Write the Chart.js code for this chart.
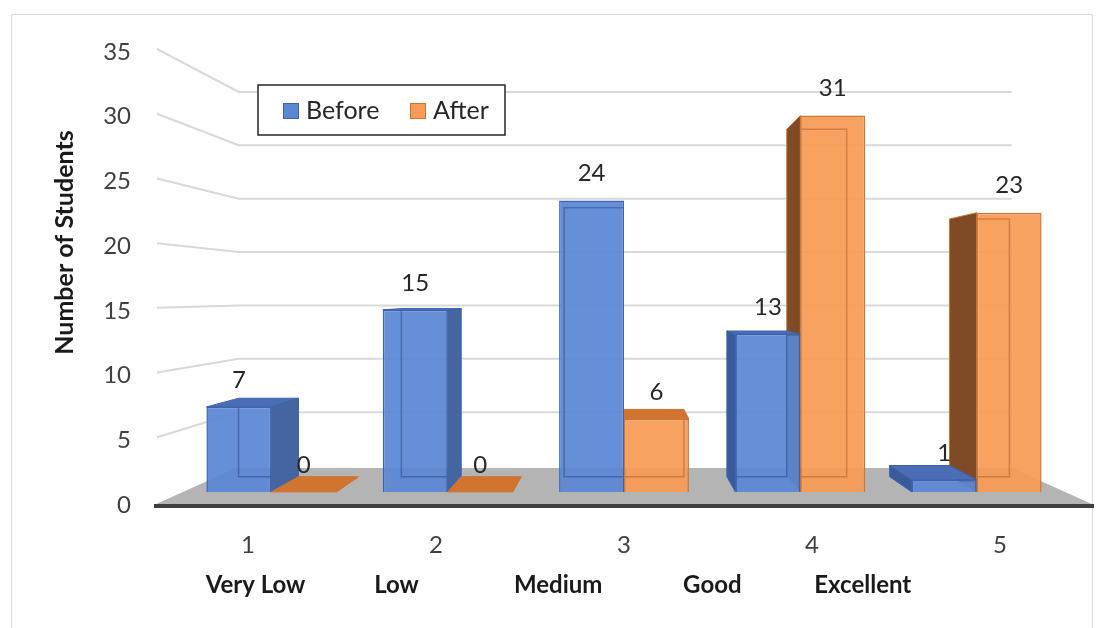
<!DOCTYPE html>
<html>
<head>
<meta charset="utf-8">
<script src="https://cdn.jsdelivr.net/npm/chart.js@4.4.1/dist/chart.umd.min.js"></script>
<style>
  html, body { margin: 0; padding: 0; background: #ffffff; }
  #wrap { width: 1101px; height: 628px; }
</style>
</head>
<body>
<div id="wrap"><canvas id="chart" width="1101" height="628"></canvas></div>
<script>
// ---- data ----
const categories = ['1', '2', '3', '4', '5'];
const ratingNames = ['Very Low', 'Low', 'Medium', 'Good', 'Excellent'];
const seriesNames = ['Before', 'After'];
const beforeCounts = [7, 15, 24, 13, 1];
const afterCounts = [0, 0, 6, 31, 23];
const yTitle = 'Number of Students';
const yMax = 35;
const yStep = 5;

// ---- 3-D view of the plot box (front-axis units / depth fractions) ----
const VIEW = {
  vpX: 2,          // vanishing point, category units
  vpY: 16.3,       // vanishing point, value units
  barPlane: 0.062, // depth of the bar fronts behind the front edge
  barDepth: 0.077, // bar depth, fraction towards the vanishing point
  wallDepth: 0.175 // depth of the back wall
};
const namePos = [0.04, 0.79, 1.65, 2.47, 3.27];

const PAL = [
  { front: 'rgba(91,135,213,0.93)', edge: '#3d63ae', sideR: '#44659f', sideL: '#3a5a9b',
    top: '#4a6db5', inner: 'rgba(36,60,118,0.45)', swatch: '#5b87d5' },
  { front: 'rgba(247,155,86,0.93)', edge: '#cc7636', sideR: '#e2843f', sideL: '#7e4b26',
    top: '#d0742f', inner: 'rgba(150,72,18,0.40)', swatch: '#f79b56' }
];

Chart.defaults.font.family = 'Lato, "Open Sans", sans-serif';
Chart.defaults.color = '#404040';

const shrink = 1 - VIEW.barPlane;
const ybMin = -VIEW.vpY * VIEW.barPlane / shrink;
const ybMax = ybMin + yMax / shrink;
const xbMin = VIEW.vpX + (-0.5 - VIEW.vpX) / shrink;
const xbMax = VIEW.vpX + (categories.length - 0.5 - VIEW.vpX) / shrink;

function toward(p, vp, t) {
  return { x: p.x + (vp.x - p.x) * t, y: p.y + (vp.y - p.y) * t };
}
function poly(ctx, pts, fill, stroke, lw) {
  ctx.beginPath();
  pts.forEach((p, i) => (i ? ctx.lineTo(p.x, p.y) : ctx.moveTo(p.x, p.y)));
  ctx.closePath();
  if (fill) { ctx.fillStyle = fill; ctx.fill(); }
  if (stroke) { ctx.strokeStyle = stroke; ctx.lineWidth = lw || 1; ctx.stroke(); }
}
function vanishing(chart) {
  return {
    x: chart.scales.x.getPixelForValue(VIEW.vpX),
    y: chart.scales.y.getPixelForValue(VIEW.vpY)
  };
}
function barBoxes(chart, vp) {
  const out = [];
  chart.data.datasets.forEach((ds, di) => {
    const meta = chart.getDatasetMeta(di);
    meta.data.forEach((el, i) => {
      const p = el.getProps(['x', 'y', 'base', 'width'], true);
      const x0 = p.x - p.width / 2, x1 = p.x + p.width / 2;
      const top = Math.min(p.y, p.base), bot = Math.max(p.y, p.base);
      const f = { tl: { x: x0, y: top }, tr: { x: x1, y: top }, bl: { x: x0, y: bot }, br: { x: x1, y: bot } };
      const b = {};
      for (const k in f) b[k] = toward(f[k], vp, VIEW.barDepth);
      out.push({ di, i, p, f, b, col: PAL[di], value: ds.data[i].y });
    });
  });
  return out;
}

const plotBox = {
  id: 'plotBox',
  beforeDraw(chart) {
    const ctx = chart.ctx;
    ctx.save();
    ctx.strokeStyle = '#d9d9d9';
    ctx.lineWidth = 1;
    ctx.strokeRect(11.5, 14.5, 1081, 700);
    ctx.restore();
  },
  beforeDatasetsDraw(chart) {
    const { ctx, chartArea: a, scales } = chart;
    const vp = vanishing(chart);
    ctx.save();
    // side-wall and back-wall gridlines
    ctx.strokeStyle = '#d9d9d9';
    ctx.lineWidth = 2;
    for (let v = yStep; v <= yMax; v += yStep) {
      const y = scales.y.getPixelForValue(v);
      const p = { x: a.left + 3, y: y - 3 };
      const q = toward(p, vp, VIEW.wallDepth);
      const r = toward({ x: a.right, y: y - 3 }, vp, VIEW.wallDepth);
      ctx.beginPath();
      ctx.moveTo(p.x, p.y); ctx.lineTo(q.x, q.y); ctx.lineTo(r.x, r.y);
      ctx.stroke();
    }
    // floor
    const y0 = scales.y.getPixelForValue(0);
    const fl = { x: a.left, y: y0 }, fr = { x: a.right, y: y0 };
    poly(ctx, [fl, fr, toward(fr, vp, VIEW.wallDepth), toward(fl, vp, VIEW.wallDepth)], '#b4b4b4');
    ctx.strokeStyle = '#3f3f3f';
    ctx.lineWidth = 4;
    ctx.beginPath();
    ctx.moveTo(a.left, y0 + 1); ctx.lineTo(a.right, y0 + 1);
    ctx.stroke();

    // bar sides and tops, far bars first
    const bars = barBoxes(chart, vp);
    bars.sort((m, n) => Math.abs(n.p.x - vp.x) - Math.abs(m.p.x - vp.x));
    bars.forEach(({ f, b, col }) => {
      if (f.tr.x < vp.x - 0.5) {
        poly(ctx, [f.tr, b.tr, b.br, f.br], col.sideR, col.edge, 1);
      } else if (f.tl.x > vp.x + 0.5) {
        poly(ctx, [f.tl, b.tl, b.bl, f.bl], col.sideL, col.edge, 1);
      }
      if (f.tl.y > vp.y) {
        poly(ctx, [f.tl, f.tr, b.tr, b.tl], col.top, col.edge, 1);
      }
    });
    ctx.restore();
  },
  afterDatasetsDraw(chart) {
    const { ctx, chartArea: a } = chart;
    const vp = vanishing(chart);
    const bars = barBoxes(chart, vp);
    ctx.save();
    // back edges seen through the fronts
    bars.forEach(({ f, b, col }) => {
      const h = f.bl.y - f.tl.y;
      if (h < 2) return;
      ctx.save();
      ctx.beginPath();
      ctx.rect(f.tl.x + 1, f.tl.y + 1, f.tr.x - f.tl.x - 2, h - 2);
      ctx.clip();
      poly(ctx, [b.tl, b.tr, b.br, b.bl], null, col.inner, 1.5);
      ctx.restore();
    });
    // value labels
    ctx.fillStyle = '#262626';
    ctx.font = '24px Lato, "Open Sans", sans-serif';
    ctx.textAlign = 'center';
    ctx.textBaseline = 'middle';
    bars.forEach(({ p, value }) => {
      ctx.fillText(String(value), p.x, Math.min(p.y, p.base) - 27);
    });

    // legend
    const items = Chart.defaults.plugins.legend.labels.generateLabels(chart);
    const bx = a.left + 104, by = a.top + 33, bw = 247, bh = 50;
    ctx.fillStyle = '#ffffff';
    ctx.fillRect(bx, by, bw, bh);
    ctx.strokeStyle = '#262626';
    ctx.lineWidth = 1.5;
    ctx.strokeRect(bx, by, bw, bh);
    ctx.font = '25px Lato, "Open Sans", sans-serif';
    ctx.textAlign = 'left';
    ctx.textBaseline = 'middle';
    let x = bx + 25;
    items.forEach((it, k) => {
      ctx.fillStyle = PAL[k].swatch;
      ctx.fillRect(x, by + 18, 16, 16);
      ctx.strokeStyle = PAL[k].edge;
      ctx.lineWidth = 1;
      ctx.strokeRect(x + 0.5, by + 18.5, 15, 15);
      ctx.fillStyle = '#262626';
      ctx.fillText(it.text, x + 23, by + 26);
      x += 127;
    });

    // value-axis title, centred on the back wall
    ctx.translate(65, (a.top + a.bottom) / 2 - 36);
    ctx.rotate(-Math.PI / 2);
    ctx.font = 'bold 25px Lato, "Open Sans", sans-serif';
    ctx.fillStyle = '#1a1a1a';
    ctx.textAlign = 'center';
    ctx.textBaseline = 'middle';
    ctx.fillText(yTitle, 0, 0);
    ctx.restore();
  }
};

const toPoints = arr => arr.map((v, i) => ({ x: i, y: v }));

new Chart(document.getElementById('chart'), {
  type: 'bar',
  data: {
    labels: categories,
    datasets: [
      { label: seriesNames[0], data: toPoints(beforeCounts), xAxisID: 'xb', yAxisID: 'yb',
        backgroundColor: PAL[0].front, borderColor: PAL[0].edge, borderWidth: 1.5 },
      { label: seriesNames[1], data: toPoints(afterCounts), xAxisID: 'xb', yAxisID: 'yb',
        backgroundColor: PAL[1].front, borderColor: PAL[1].edge, borderWidth: 1.5 }
    ]
  },
  options: {
    responsive: false,
    animation: false,
    devicePixelRatio: 1,
    layout: { padding: { left: 10, right: 7, top: 52, bottom: 23 } },
    datasets: { bar: { categoryPercentage: 0.736, barPercentage: 1, grouped: true } },
    plugins: { legend: { display: false }, tooltip: { enabled: false } },
    scales: {
      x: {
        type: 'category', position: 'bottom', offset: true,
        grid: { display: false, drawTicks: false }, border: { display: false },
        ticks: { font: { size: 24 }, color: '#404040', padding: 26, maxRotation: 0 },
        afterFit: s => { s.height = 58; }
      },
      xn: {
        type: 'linear', position: 'bottom', weight: 1, offset: false,
        min: -0.5, max: categories.length - 0.5,
        grid: { display: false, drawTicks: false }, border: { display: false },
        afterBuildTicks: s => { s.ticks = namePos.map(v => ({ value: v })); },
        ticks: {
          font: { size: 24, weight: 'bold' }, color: '#1a1a1a', padding: 8, maxRotation: 0,
          autoSkip: false, callback: (v, i) => ratingNames[i]
        },
        afterFit: s => { s.height = 42; }
      },
      xb: { type: 'linear', display: false, offset: false, min: xbMin, max: xbMax },
      y: {
        type: 'linear', position: 'left', min: 0, max: yMax,
        grid: { display: false, drawTicks: false }, border: { display: false },
        ticks: { stepSize: yStep, font: { size: 24 }, color: '#404040', padding: 23 },
        afterFit: s => { s.width = 144; }
      },
      yb: { type: 'linear', display: false, min: ybMin, max: ybMax }
    }
  },
  plugins: [plotBox]
});
</script>
</body>
</html>
